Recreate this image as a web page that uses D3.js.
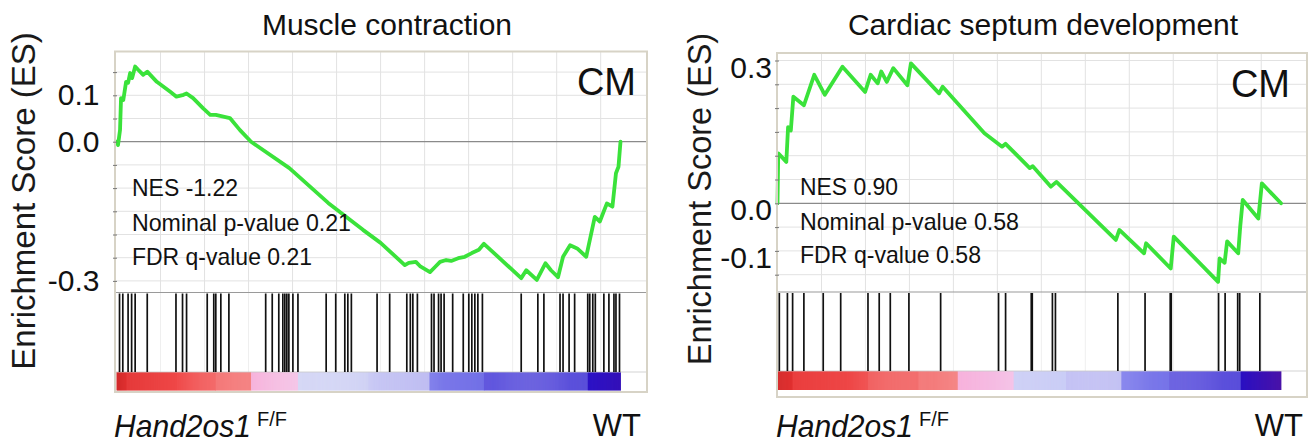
<!DOCTYPE html>
<html><head><meta charset="utf-8">
<script src="https://cdn.jsdelivr.net/npm/d3@7"></script>
<style>html,body{margin:0;padding:0;background:#fff;}svg{display:block;font-family:"Liberation Sans",Arial,sans-serif;}</style>
</head><body><svg id="c" width="1309" height="443"></svg>
<script>
// ---------------- data ----------------
const titles = ["Muscle contraction", "Cardiac septum development"];
const yAxisTitle = "Enrichment Score (ES)";
const cornerLabel = "CM";
const leftTickValues = [0.1, 0.0, -0.3];
const leftTickLabels = ["0.1", "0.0", "-0.3"];
const rightTickValues = [0.3, 0.0, -0.1];
const rightTickLabels = ["0.3", "0.0", "-0.1"];
const leftStats = ["NES -1.22", "Nominal p-value 0.21", "FDR q-value 0.21"];
const rightStats = ["NES 0.90", "Nominal p-value 0.58", "FDR q-value 0.58"];
const groupLow = "Hand2os1", groupLowSup = "F/F", groupHigh = "WT";
// running enrichment score: [position in ranked list (%), ES]
const leftCurve = [[0,0],[0.3,-0.007],[0.7,0.025],[0.9,0.094],[1.35,0.090],[1.9,0.129],[2.3,0.127],[2.7,0.148],[3.1,0.137],[3.7,0.162],
 [4.3,0.155],[5.3,0.144],[6.1,0.151],[8.0,0.129],[10.6,0.108],[11.9,0.097],[13.3,0.101],[13.9,0.104],[15.2,0.094],[17.2,0.072],
 [18.6,0.058],[19.7,0.058],[22.5,0.051],[24.5,0.025],[26.7,0.000],[34.3,-0.057],[42.0,-0.132],[48.9,-0.190],[52.4,-0.218],[57.2,-0.266],
 [58.0,-0.261],[59.4,-0.259],[60.2,-0.268],[62.2,-0.281],[63.2,-0.270],[64.2,-0.259],[65.4,-0.255],[66.4,-0.257],[67.8,-0.251],[69.1,-0.248],
 [70.5,-0.240],[71.9,-0.233],[72.9,-0.220],[80.3,-0.294],[81.3,-0.277],[83.4,-0.298],[85.1,-0.262],[86.2,-0.277],[87.6,-0.292],[88.6,-0.248],
 [90.0,-0.223],[91.4,-0.230],[93.2,-0.248],[94.9,-0.162],[95.9,-0.172],[97.3,-0.133],[98.4,-0.140],[99.1,-0.068],[99.6,-0.054],[100,0.000]];
const rightCurve = [[0,0],[0.15,0.105],[1.75,0.087],[2.1,0.160],[2.65,0.153],[3.15,0.224],[5.25,0.206],[7.3,0.270],[9.4,0.228],[12.9,0.287],
 [17.4,0.234],[18.5,0.270],[19.9,0.252],[20.6,0.277],[21.7,0.255],[23.0,0.284],[25.8,0.248],[26.5,0.294],[32.1,0.231],[32.8,0.245],
 [41.1,0.147],[44.6,0.119],[45.3,0.125],[50.1,0.074],[50.7,0.078],[54.3,0.035],[55.4,0.045],[67.2,-0.077],[67.9,-0.056],[72.8,-0.105],
 [73.2,-0.084],[78.1,-0.137],[78.7,-0.070],[87.5,-0.165],[87.8,-0.116],[88.8,-0.125],[89.3,-0.080],[91.5,-0.105],[91.9,-0.049],[92.4,0.007],
 [95.5,-0.032],[96.2,0.042],[100,0.000]];
// gene-set hit positions (%)
const leftHits = [0.6,1.25,2.3,3.0,3.7,6.1,11.8,13.1,13.9,18.0,19.3,19.7,20.7,22.3,29.6,30.9,32.2,33.0,33.4,33.8,34.2,35.0,36.0,41.6,43.5,45.3,45.9,46.6,
 51.7,54.2,57.6,58.3,58.8,59.7,62.5,63.0,63.9,64.4,65.0,66.7,68.8,69.9,70.5,71.1,71.7,72.6,80.3,83.6,84.8,88.0,88.6,89.8,90.9,93.5,93.9,94.5,95.0,
 96.7,97.7,98.7,99.1,99.8];
const rightHits = [0.36,1.97,3.0,5.24,9.08,12.55,17.97,20.2,22.4,26.1,32.4,43.9,45.3,50.4,50.6,54.6,55.2,67.6,73.0,78.0,78.2,87.6,88.9,91.4,91.8,95.8];
// ranked-list metric colour bar: [from %, to %, colour from, colour to]
const leftBar = [[0,2,"#cf1f1f","#e03030"],[2,12,"#e53a3a","#ef4848"],[12,19.6,"#f04c4c","#f25c5c"],[19.6,26.7,"#f36a6a","#f58282"],
 [26.7,36.0,"#f6b0da","#f4c2e6"],[36.0,50,"#d6d8f5","#cdcff4"],[50,62.1,"#c8c8f4","#bfbdf2"],[62.1,72.9,"#7c7aea","#7270e6"],
 [72.9,93.5,"#6258de","#5a4fda"],[93.5,100,"#2c12c6","#3410b8"]];
const rightBar = [[0,3,"#d42424","#e23232"],[3,18,"#ea3e3e","#ef4a4a"],[18,28,"#f05858","#f26666"],[28,35.8,"#f37474","#f58888"],
 [35.8,46.9,"#f7b2dc","#f4c0e6"],[46.9,57.3,"#cfd1f6","#cacdf6"],[57.3,68.3,"#c4c2f4","#bebcf2"],[68.3,77.8,"#807eec","#7674e8"],
 [77.8,92.0,"#6056de","#5a4eda"],[92.0,100,"#2a10c2","#4a12a8"]];
const gridStepPct = 100 * 2000 / 22900;

// ---------------- layout ----------------
const panels = [
 {title: titles[0], curve: leftCurve, hits: leftHits, bar: leftBar, ticks: leftTickValues, tickLabels: leftTickLabels, stats: leftStats,
  boxL:115, boxR:647, boxT:51.5, boxB:392, dataL:116.5, dataR:620.5, esB:292.5, hitB:372, barB:390.5, zeroY:141.7, per01:46.4,
  titleX:387, ylabX:35, ylabY:201, ylabSize:33, tickPad:15.5, tickDy:0, cmX:636, cmY:95,
  statX:132, statY:[196,231,265], statLen:[106,219,180], lowX:114, wtX:641},
 {title: titles[1], curve: rightCurve, hits: rightHits, bar: rightBar, ticks: rightTickValues, tickLabels: rightTickLabels, stats: rightStats,
  boxL:777, boxR:1307, boxT:53, boxB:397, dataL:777.5, dataR:1281, esB:292, hitB:371, barB:390, zeroY:203.3, per01:47.6,
  titleX:1043, ylabX:711, ylabY:199, ylabSize:32.5, tickPad:5, tickDy:7, cmX:1290, cmY:97,
  statX:800, statY:[195,230,263], statLen:[98,219,181], lowX:776, wtX:1303}
];

const svg = d3.select("#c");
svg.append("rect").attr("width",1309).attr("height",443).attr("fill","#fff");

panels.forEach(p => {
  const g = svg.append("g");
  const x = d3.scaleLinear().domain([0,100]).range([p.dataL, p.dataR]);
  const y = d3.scaleLinear()
    .domain([(p.zeroY - p.esB)/(p.per01*10), (p.zeroY - p.boxT)/(p.per01*10)])
    .range([p.esB, p.boxT]);

  // grid
  const gx = d3.range(gridStepPct, 100, gridStepPct);
  g.selectAll(".vg").data(gx).join("line")
    .attr("x1", d=>x(d)).attr("x2", d=>x(d)).attr("y1", p.boxT).attr("y2", p.esB)
    .attr("stroke","#e2e2e2").attr("stroke-width",1);
  g.selectAll(".vgh").data(gx).join("line")
    .attr("x1", d=>x(d)).attr("x2", d=>x(d)).attr("y1", p.esB).attr("y2", p.hitB)
    .attr("stroke","#efefef").attr("stroke-width",1);
  const [ylo, yhi] = y.domain();
  const gy = d3.range(Math.ceil(ylo/0.05)*0.05, yhi, 0.05).map(v=>Math.round(v*100)/100);
  g.selectAll(".hg").data(gy.filter(v=>v!==0)).join("line")
    .attr("x1", p.boxL).attr("x2", p.boxR).attr("y1", d=>y(d)).attr("y2", d=>y(d))
    .attr("stroke","#e2e2e2").attr("stroke-width",1);
  // zero line
  g.append("line").attr("x1",p.boxL).attr("x2",p.boxR).attr("y1",y(0)).attr("y2",y(0))
    .attr("stroke","#8a8a8a").attr("stroke-width",1.3);
  // separator between ES area and hits
  g.append("line").attr("x1",p.boxL).attr("x2",p.boxR).attr("y1",p.esB).attr("y2",p.esB)
    .attr("stroke","#9a9a9a").attr("stroke-width",1.2);

  // colour bar
  p.bar.forEach(([a,b,c0,c1]) => {
    const it = d3.interpolateRgb(c0,c1);
    const st = d3.range(a, b, 0.2);
    g.selectAll(null).data(st).join("rect")
      .attr("x", d=>x(d)).attr("y", p.hitB)
      .attr("width", d=>Math.max(0.5, x(Math.min(d+0.2,b)) - x(d) + 0.4))
      .attr("height", p.barB - p.hitB)
      .attr("fill", d=>it((d-a)/(b-a)));
  });
  g.append("line").attr("x1",p.boxL).attr("x2",p.boxR).attr("y1",p.hitB).attr("y2",p.hitB)
    .attr("stroke","#c8c8c8").attr("stroke-width",0.8);

  // hits
  g.selectAll(".hit").data(p.hits).join("line")
    .attr("x1", d=>x(d)).attr("x2", d=>x(d)).attr("y1", p.esB+1).attr("y2", p.hitB)
    .attr("stroke","#111").attr("stroke-width",1.7);

  // ES curve
  g.append("path").datum(p.curve)
    .attr("d", d3.line().x(d=>x(d[0])).y(d=>y(d[1])))
    .attr("fill","none").attr("stroke","#3ae23a").attr("stroke-width",3.8)
    .attr("stroke-linejoin","round").attr("stroke-linecap","round");

  // frame
  g.append("rect").attr("x",p.boxL).attr("y",p.boxT).attr("width",p.boxR-p.boxL).attr("height",p.boxB-p.boxT)
    .attr("fill","none").attr("stroke","#d7d3c6").attr("stroke-width",2);

  // small ticks on left edge
  const mt = g.append("g").attr("transform",`translate(${p.boxL+2},0)`)
    .call(d3.axisLeft(y).tickValues(gy).tickSize(4).tickFormat(""));
  mt.select(".domain").remove();
  mt.selectAll("line").attr("stroke","#777");

  // tick labels
  const ax = g.append("g").attr("transform",`translate(${p.boxL},${p.tickDy})`)
    .call(d3.axisLeft(y).tickValues(p.ticks).tickFormat((d,i)=>p.tickLabels[i]).tickSize(0).tickPadding(p.tickPad));
  ax.select(".domain").remove();
  ax.selectAll("text").attr("font-size",30).attr("fill","#111").attr("font-family",'"Liberation Sans",Arial,sans-serif');

  // titles and labels
  g.append("text").attr("x",p.titleX).attr("y",35).attr("text-anchor","middle")
    .attr("font-size",30).attr("fill","#111").text(p.title);
  g.append("text").attr("transform",`translate(${p.ylabX},${p.ylabY}) rotate(-90)`).attr("text-anchor","middle")
    .attr("font-size",p.ylabSize).attr("fill","#1a1a1a").text(yAxisTitle);
  g.append("text").attr("x",p.cmX).attr("y",p.cmY).attr("text-anchor","end")
    .attr("font-size",38).attr("fill","#111").text(cornerLabel);
  p.stats.forEach((s,i) => {
    g.append("text").attr("x",p.statX).attr("y",p.statY[i]).attr("font-size",24)
      .attr("textLength",p.statLen[i]).attr("lengthAdjust","spacingAndGlyphs")
      .attr("fill","#111").text(s);
  });
  const low = g.append("text").attr("x",p.lowX).attr("y",437).attr("fill","#111");
  low.append("tspan").attr("font-size",32).attr("font-style","italic")
    .attr("textLength",137).attr("lengthAdjust","spacingAndGlyphs").text(groupLow);
  low.append("tspan").attr("font-size",20).attr("dx",6).attr("dy",-11).text(groupLowSup);
  g.append("text").attr("x",p.wtX).attr("y",436).attr("text-anchor","end").attr("font-size",31)
    .attr("fill","#111").text(groupHigh);
});
</script></body></html>
